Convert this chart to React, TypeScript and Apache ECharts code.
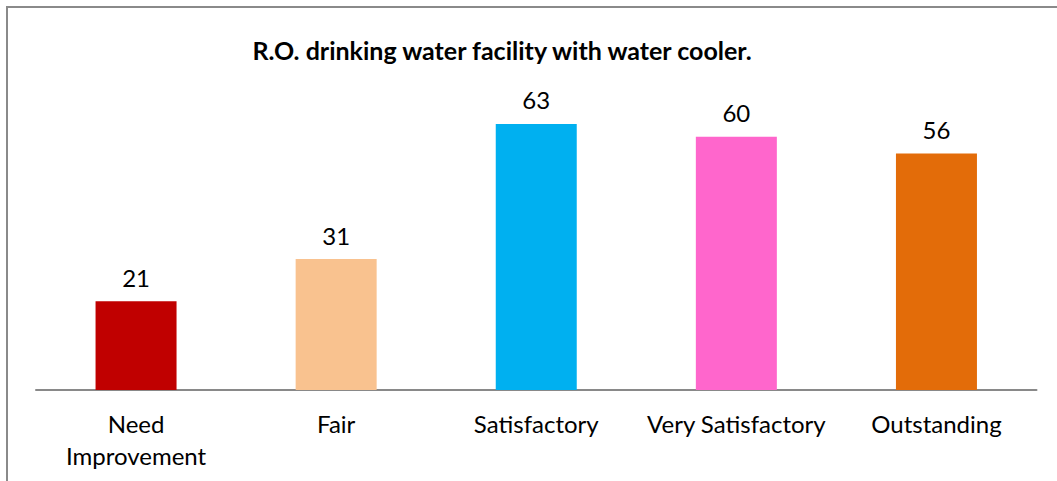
import React, { useEffect, useRef } from "react";
import * as echarts from "echarts";

const categories = ["Need\nImprovement", "Fair", "Satisfactory", "Very Satisfactory", "Outstanding"];
const values = [21, 31, 63, 60, 56];
const colors = ["#C00000", "#F9C28F", "#00B0F0", "#FF66CC", "#E36C09"];
const title = "R.O. drinking water facility with water cooler.";

export default function App() {
  const ref = useRef<HTMLDivElement>(null);
  useEffect(() => {
    const chart = echarts.init(ref.current!, null, { renderer: "svg" });
    chart.setOption({
      animation: false,
      backgroundColor: "#ffffff",
      title: {
        text: title,
        left: 497,
        textAlign: "center",
        top: 32,
        textStyle: { fontFamily: "Lato", fontWeight: "bold", fontSize: 25, color: "#000" },
      },
      graphic: [
        {
          type: "rect",
          shape: { x: 7, y: 7, width: 1200, height: 700 },
          style: { fill: "none", stroke: "#8a8a8a", lineWidth: 2 },
          silent: true,
        },
      ],
      grid: { left: 36, right: 20.5, top: 94.4, bottom: 91, containLabel: false },
      xAxis: {
        type: "category",
        data: categories,
        axisLine: { lineStyle: { color: "#898989", width: 2 } },
        axisTick: { show: false },
        axisLabel: {
          fontFamily: "Lato",
          fontSize: 24,
          color: "#000",
          lineHeight: 32,
          margin: 17,
          interval: 0,
        },
      },
      yAxis: {
        type: "value",
        min: 0,
        max: 70,
        show: false,
        splitLine: { show: false },
      },
      series: [
        {
          type: "bar",
          barWidth: 81,
          data: values.map((v, i) => ({ value: v, itemStyle: { color: colors[i] } })),
          label: {
            show: true,
            position: "top",
            distance: 12,
            fontFamily: "Lato",
            fontSize: 24,
            color: "#000",
          },
        },
      ],
    });
    return () => chart.dispose();
  }, []);
  return (
    <div
      ref={ref}
      style={{ position: "absolute", left: 0, top: 0, width: 1057, height: 481 }}
    />
  );
}
